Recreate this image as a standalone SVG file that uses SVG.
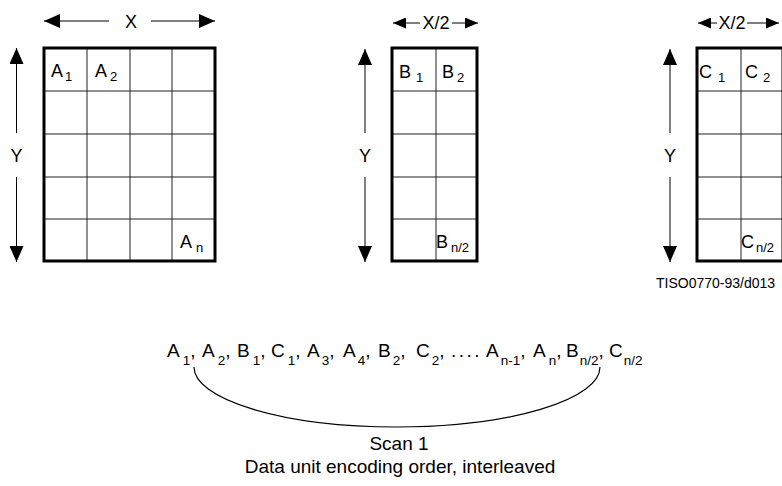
<svg xmlns="http://www.w3.org/2000/svg" width="782" height="486" viewBox="0 0 782 486">
<defs>
<style>
text{font-family:"Liberation Sans",Arial,sans-serif;fill:#000}
.l{font-size:18px}
.s{font-size:13px}
.f{font-size:19px}
.fs{font-size:13.5px}
.c{font-size:18px;text-anchor:middle}
.t{font-size:14px}
.b{font-size:19px;text-anchor:middle}
.outer{fill:none;stroke:#000;stroke-width:3}
.inner{stroke:#222;stroke-width:1;fill:none}
.dim{stroke:#000;stroke-width:1;fill:none;marker-end:url(#ah)}
.dims{stroke:#000;stroke-width:1;fill:none;marker-end:url(#ahs)}
.arc{stroke:#000;stroke-width:1.2;fill:none}
</style>
<marker id="ah" viewBox="0 0 16 14" refX="16" refY="7" markerWidth="16" markerHeight="14" markerUnits="userSpaceOnUse" orient="auto">
<path d="M0,0 L16,7 L0,14 z" fill="#000"/>
</marker>
<marker id="ahs" viewBox="0 0 13 11" refX="13" refY="5.5" markerWidth="13" markerHeight="11" markerUnits="userSpaceOnUse" orient="auto">
<path d="M0,0 L13,5.5 L0,11 z" fill="#000"/>
</marker>
</defs>
<rect width="782" height="486" fill="#fff"/>

<g id="gridA">
<path class="inner" d="M87,48V261M130,48V261M172,48V261M44,91H215M44,134H215M44,177H215M44,219H215"/>
<rect class="outer" x="44" y="48" width="171" height="213"/>
<text class="l"><tspan x="51" y="77">A</tspan><tspan class="s" x="65" y="81">1</tspan></text>
<text class="l"><tspan x="95" y="77">A</tspan><tspan class="s" x="110" y="81">2</tspan></text>
<text class="l"><tspan x="180" y="248">A</tspan><tspan class="s" x="196" y="252">n</tspan></text>
</g>

<g id="gridB">
<path class="inner" d="M436,48V261M392,91H477M392,134H477M392,177H477M392,219H477"/>
<rect class="outer" x="392" y="48" width="85" height="213"/>
<text class="l"><tspan x="399" y="78">B</tspan><tspan class="s" x="416" y="82">1</tspan></text>
<text class="l"><tspan x="442" y="78">B</tspan><tspan class="s" x="457" y="82">2</tspan></text>
<text class="l"><tspan x="436" y="248">B</tspan><tspan class="s" x="451" y="252">n/2</tspan></text>
</g>

<g id="gridC">
<path class="inner" d="M741,48V261M697,91H783M697,134H783M697,177H783M697,219H783"/>
<rect class="outer" x="697" y="48" width="86" height="213"/>
<text class="l"><tspan x="699" y="78">C</tspan><tspan class="s" x="718" y="82">1</tspan></text>
<text class="l"><tspan x="745" y="78">C</tspan><tspan class="s" x="763" y="82">2</tspan></text>
<text class="l"><tspan x="741" y="248">C</tspan><tspan class="s" x="756" y="252">n/2</tspan></text>
</g>

<g id="dimensions">
<line class="dim" x1="109" y1="21" x2="44" y2="21"/>
<line class="dim" x1="151" y1="21" x2="215" y2="21"/>
<text class="c" x="131" y="28">X</text>
<line class="dim" x1="16.5" y1="133" x2="16.5" y2="48"/>
<line class="dim" x1="16.5" y1="177" x2="16.5" y2="262"/>
<text class="c" x="16.5" y="162">Y</text>

<line class="dims" x1="420" y1="23" x2="393" y2="23"/>
<line class="dims" x1="452" y1="23" x2="478" y2="23"/>
<text class="c" x="436" y="29">X/2</text>
<line class="dim" x1="365" y1="133" x2="365" y2="49"/>
<line class="dim" x1="365" y1="177" x2="365" y2="262"/>
<text class="c" x="365" y="162">Y</text>

<line class="dims" x1="717" y1="23" x2="698" y2="23"/>
<line class="dims" x1="747" y1="23" x2="779" y2="23"/>
<text class="c" x="732" y="29">X/2</text>
<line class="dim" x1="670" y1="133" x2="670" y2="49"/>
<line class="dim" x1="670" y1="177" x2="670" y2="262"/>
<text class="c" x="670" y="162">Y</text>

<text class="t" x="656" y="288">TISO0770-93/d013</text>
</g>

<g id="sequence">
<text class="f"><tspan x="167" y="357">A</tspan><tspan class="fs" dx="3" y="365">1</tspan><tspan y="357">,</tspan><tspan x="202" y="357">A</tspan><tspan class="fs" dx="3" y="365">2</tspan><tspan y="357">,</tspan><tspan x="237" y="357">B</tspan><tspan class="fs" dx="3" y="365">1</tspan><tspan y="357">,</tspan><tspan x="271" y="357">C</tspan><tspan class="fs" dx="3" y="365">1</tspan><tspan y="357">,</tspan><tspan x="307" y="357">A</tspan><tspan class="fs" dx="2" y="365">3</tspan><tspan y="357">,</tspan><tspan x="343" y="357">A</tspan><tspan class="fs" dx="2" y="365">4</tspan><tspan y="357">,</tspan><tspan x="378" y="357">B</tspan><tspan class="fs" dx="2" y="365">2</tspan><tspan y="357">,</tspan><tspan x="416" y="357">C</tspan><tspan class="fs" dx="2" y="365">2</tspan><tspan y="357">,</tspan><tspan x="451" y="357" letter-spacing="2.5">....</tspan><tspan x="486" y="357">A</tspan><tspan class="fs" dx="2" y="365">n-1</tspan><tspan y="357">,</tspan><tspan x="533" y="357">A</tspan><tspan class="fs" dx="3" y="365">n</tspan><tspan y="357">,</tspan><tspan x="566" y="357">B</tspan><tspan class="fs" dx="1" y="365">n/2</tspan><tspan y="357">,</tspan><tspan x="609" y="357">C</tspan><tspan class="fs" dx="1" y="365">n/2</tspan></text>
<text class="b" x="399" y="450">Scan 1</text>
<text class="b" x="400" y="473">Data unit encoding order, interleaved</text>
</g>

<g id="connectors">
<path class="arc" d="M194,367 A203,60 0 0 0 600,367"/>
</g>
</svg>
